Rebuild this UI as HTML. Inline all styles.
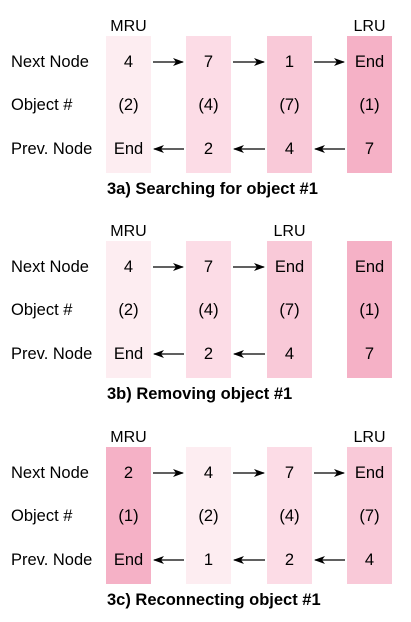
<!DOCTYPE html>
<html><head><meta charset="utf-8"><style>
body{margin:0;background:#fff;}
svg{display:block;font-family:"Liberation Sans",Arial,sans-serif;}
</style></head><body>
<svg width="411" height="622" viewBox="0 0 411 622">
<defs><marker id="ah" markerWidth="11" markerHeight="8" refX="10" refY="4" orient="auto" markerUnits="userSpaceOnUse"><path d="M0,0 L11,4 L0,8 L3,4 Z" fill="#000"/></marker></defs>
<g id="root"></g>
</svg>
<script>
const colX=[106,186,267,347];
const colW=45;
const colors=['#fdedf1','#fcdce6','#f9c9d8','#f5b1c6'];
const panels=[
 {top:36,title:'3a) Searching for object #1',mru:0,lru:3,shade:[0,1,2,3],
  next:['4','7','1','End'],obj:['(2)','(4)','(7)','(1)'],prev:['End','2','4','7'],links:[0,1,2]},
 {top:241,title:'3b) Removing object #1',mru:0,lru:2,shade:[0,1,2,3],
  next:['4','7','End','End'],obj:['(2)','(4)','(7)','(1)'],prev:['End','2','4','7'],links:[0,1]},
 {top:447,title:'3c) Reconnecting object #1',mru:0,lru:3,shade:[3,0,1,2],
  next:['2','4','7','End'],obj:['(1)','(2)','(4)','(7)'],prev:['End','1','2','4'],links:[0,1,2]}
];
const rowLabels=['Next Node','Object #','Prev. Node'];
const NS='http://www.w3.org/2000/svg';
const root=document.getElementById('root');
function mk(tag,attrs,txt){const e=document.createElementNS(NS,tag);for(const k in attrs)e.setAttribute(k,attrs[k]);if(txt!==undefined)e.textContent=txt;root.appendChild(e);return e;}
panels.forEach((p,pi)=>{
  const rows=[p.top+25,p.top+68,p.top+112];
  p.shade.forEach((s,i)=>{
    const r=mk('rect',{x:colX[i],y:p.top,width:colW,height:137,fill:colors[s]});
    
    
  });
  const m=mk('text',{x:colX[p.mru]+colW/2,y:p.top-5,'text-anchor':'middle','font-size':16},'MRU');
  
  const l=mk('text',{x:colX[p.lru]+colW/2,y:p.top-5,'text-anchor':'middle','font-size':16},'LRU');
  
  rowLabels.forEach((t,ri)=>{
    const e=mk('text',{x:11,y:rows[ri]+6,'font-size':16.5},t);
    
  });
  [p.next,p.obj,p.prev].forEach((arr,ri)=>arr.forEach((t,i)=>{
    const e=mk('text',{x:colX[i]+colW/2,y:rows[ri]+6,'text-anchor':'middle','font-size':16.5},t);
    
  }));
  p.links.forEach(i=>{
    const x1=colX[i]+colW+2,x2=colX[i+1]-3;
    const a=mk('line',{x1:x1,y1:rows[0]+1,x2:x2,y2:rows[0]+1,stroke:'#000','stroke-width':1.2,'marker-end':'url(#ah)'});
    
    const b=mk('line',{x1:x2+1,y1:rows[2]+1,x2:x1+1,y2:rows[2]+1,stroke:'#000','stroke-width':1.2,'marker-end':'url(#ah)'});
    
  });
  const t=mk('text',{x:107,y:p.top+158,'font-size':16.5,'font-weight':'bold'},p.title);
  
});
</script>
</body></html>
